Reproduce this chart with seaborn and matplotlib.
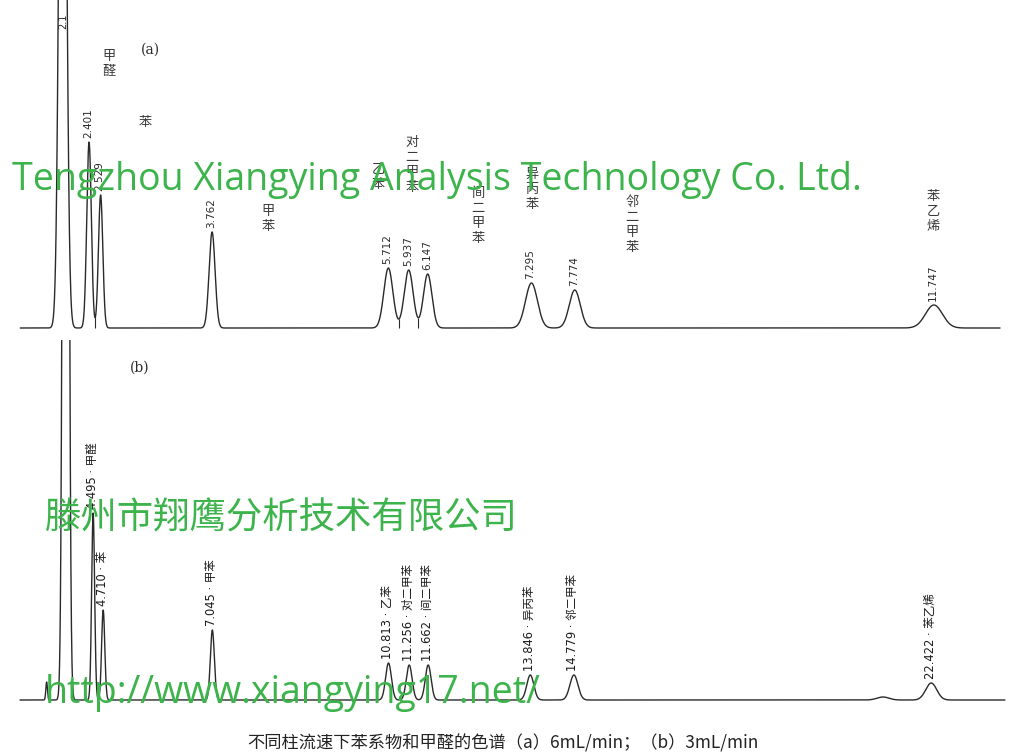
import matplotlib
matplotlib.use("Agg")
import matplotlib.pyplot as plt
import seaborn as sns
import numpy as np

# --- (a) 6 mL/min : retention time (min), peak height, peak sigma (min)
time_a = [2.11, 2.401, 2.529, 3.762, 5.712, 5.937, 6.147, 7.295, 7.774, 11.747]
height_a = [900, 186, 133, 96, 60, 58, 54, 45, 38, 23]
sigma_a = [0.035, 0.025, 0.024, 0.033, 0.050, 0.049, 0.047, 0.066, 0.061, 0.094]
rt_labels_a = ["", "2.401", "2.529", "3.762", "5.712", "5.937", "6.147",
               "7.295", "7.774", "11.747"]
names_a = ["甲醛", "苯", "甲苯", "乙苯", "对二甲苯", "间二甲苯", "异丙苯", "邻二甲苯", "苯乙烯"]
# integration drop lines between unresolved peaks in (a)
drops_a = [2.465, 5.825, 6.042]

# --- (b) 3 mL/min
time_b = [3.50, 3.91, 4.495, 4.710, 7.045, 10.813, 11.256, 11.662, 13.846,
          14.779, 21.39, 22.422]
height_b = [18, 2000, 187, 90, 70, 37, 35, 35, 25, 25, 3, 17]
sigma_b = [0.017, 0.047, 0.032, 0.034, 0.043, 0.062, 0.062, 0.062, 0.075,
           0.086, 0.128, 0.118]
rt_labels_b = ["", "", "4.495 · 甲醛", "4.710 · 苯", "7.045 · 甲苯",
               "10.813 · 乙苯", "11.256 · 对二甲苯", "11.662 · 间二甲苯",
               "13.846 · 异丙苯", "14.779 · 邻二甲苯", "", "22.422 · 苯乙烯"]

caption = "不同柱流速下苯系物和甲醛的色谱（a）6mL/min；（b）3mL/min"

W, H = 1029, 753
sns.set_theme(style="white")
plt.rcParams["font.family"] = ["DejaVu Sans", "Noto Sans CJK SC"]

fig = plt.figure(figsize=(W / 100, H / 100), dpi=100)
fig.patch.set_facecolor("white")


def fx(px):
    return px / W


def fy(py):
    return 1 - py / H


def trace(t, times, heights, sigmas):
    t = np.asarray(t, dtype=float)
    y = np.zeros_like(t)
    for c, h, s in zip(times, heights, sigmas):
        y += h * np.exp(-0.5 * ((t - c) / s) ** 2)
    return y


ink = "#2a2a2a"

# top panel, px mapping: x = -128 + 90.4 t, baseline at y=328
ax_a = fig.add_axes([0, fy(340), 1, 340 / H])
ta = np.arange(1.64, 12.48, 0.002)
sns.lineplot(x=ta, y=trace(ta, time_a, height_a, sigma_a), ax=ax_a,
             color=ink, lw=1.0, estimator=None)
ax_a.vlines(drops_a, 0, trace(drops_a, time_a, height_a, sigma_a),
            color=ink, lw=0.8)
ax_a.set_xlim(128 / 90.4, (W + 128) / 90.4)
ax_a.set_ylim(-12, 328)
for t, h, lab in zip(time_a, height_a, rt_labels_a):
    if lab:
        ax_a.text(t - 0.01, h + 4, lab, rotation=90, ha="center", va="bottom",
                  fontsize=7.5, color=ink)

# bottom panel, px mapping: x = -117 + 46.75 t, baseline at y=700
ax_b = fig.add_axes([0, fy(712), 1, 372 / H])
tb = np.arange(2.93, 24.0, 0.003)
sns.lineplot(x=tb, y=trace(tb, time_b, height_b, sigma_b), ax=ax_b,
             color=ink, lw=1.0, estimator=None)
ax_b.set_xlim(117 / 46.75, (W + 117) / 46.75)
ax_b.set_ylim(-12, 360)
for t, h, lab in zip(time_b, height_b, rt_labels_b):
    if lab:
        ax_b.text(t - 0.02, h + 4, lab, rotation=90, ha="center", va="bottom",
                  fontsize=8.3, color="#1a1a1a")

for ax in (ax_a, ax_b):
    ax.axis("off")

# compound names of (a), one character per line (x center px, y top px)
name_pos = [(109, 50), (145, 116), (268, 205), (378, 163), (412, 136),
            (478, 187), (532, 168), (632, 196), (933, 190)]
for name, (px, py) in zip(names_a, name_pos):
    for i, ch in enumerate(name):
        fig.text(fx(px), fy(py + 15 * i), ch, ha="center", va="top",
                 rotation=0, fontsize=9.5, color="#3a3a3a",
                 family=["Noto Sans CJK SC"])
fig.text(fx(63), fy(14), "2.1", rotation=90, ha="center", va="top",
         fontsize=7, color=ink)

fig.text(fx(150), fy(50), "(a)", ha="center", va="center", fontsize=10,
         family="DejaVu Serif", color=ink)
fig.text(fx(140), fy(368), "(b)", ha="center", va="center", fontsize=10,
         family="DejaVu Serif", color=ink)

# watermarks
green = "#3cb44b"
fig.text(fx(12), fy(180), "Tengzhou Xiangying Analysis Technology Co. Ltd.",
         ha="left", va="center", fontsize=27, color=green, family="Open Sans")
fig.text(fx(45), fy(518), "滕州市翔鹰分析技术有限公司", ha="left", va="center",
         fontsize=26.2, color=green, family=["Noto Sans CJK SC"])
fig.text(fx(45), fy(693), "http://www.xiangying17.net/", ha="left", va="center",
         fontsize=27, color=green, family="Open Sans")

fig.text(fx(503), fy(743), caption, ha="center", va="center", fontsize=12.4,
         color="#222222", family=["Noto Sans CJK SC"])

fig.savefig("out.png", dpi=100)
plt.close(fig)
